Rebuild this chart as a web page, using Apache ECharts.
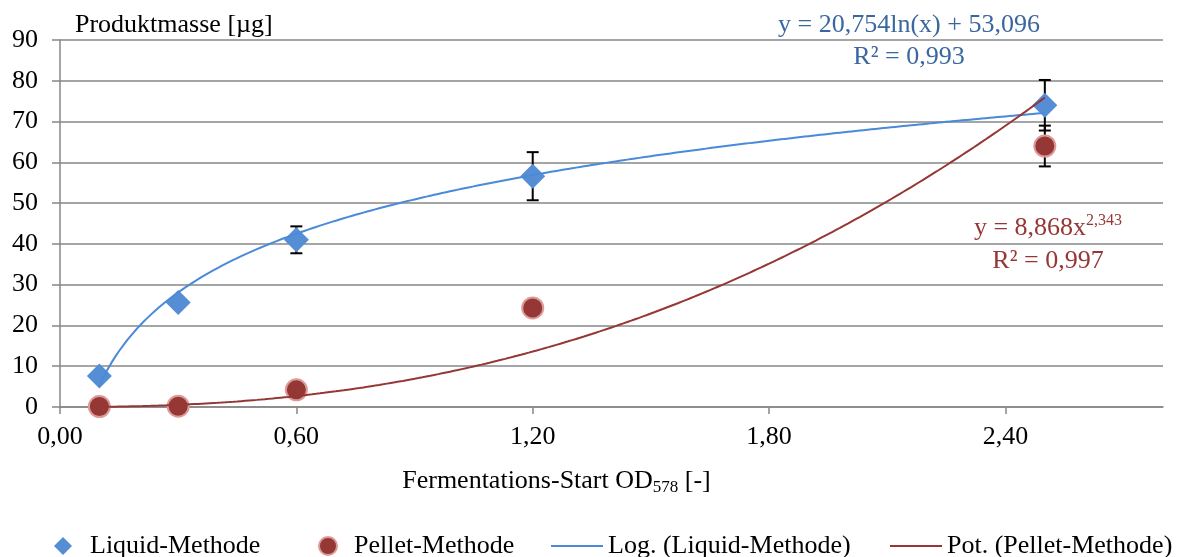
<!DOCTYPE html>
<html>
<head>
<meta charset="utf-8">
<script src="https://cdn.jsdelivr.net/npm/echarts@6/dist/echarts.min.js"></script>
<style>
html,body{margin:0;padding:0;background:#fff;}
#chart{width:1180px;height:557px;}
</style>
</head>
<body>
<div id="chart"></div>
<script>
// ---- data ----
const xValues = [0.1, 0.3, 0.6, 1.2, 2.5];
const liquidMean = [7.6, 25.6, 41.0, 56.6, 74.0];
const liquidErr = [1.2, 1.0, 3.3, 5.9, 6.2];
const pelletMean = [0.1, 0.2, 4.2, 24.3, 64.0];
const pelletErr = [0.3, 0.3, 0.8, 1.5, 5.0];
const xTickValues = [0, 0.6, 1.2, 1.8, 2.4];
// trendline equations printed on the chart
const logSlope = 20.754, logIntercept = 53.096, logR2 = '0,993';
const powCoeff = 8.868, powExp = 2.343, powR2 = '0,997';

const FONT = '"Liberation Serif", "Times New Roman", serif';
const GRID_COLOR = '#878787';
const BLUE = '#558ed5';
const RED = '#953735';

function fmt(v){ return v.toFixed(2).replace('.', ','); }

// trendline curves from the printed equations
const curveX = [];
for (let i = 0; i <= 240; i++) curveX.push(0.1 + i * 0.01);
const logCurve = curveX.map(x => [x, logSlope * Math.log(x) + logIntercept]);
const powCurve = curveX.map(x => [x, powCoeff * Math.pow(x, powExp)]);

const liquidPts = xValues.map((x, i) => [x, liquidMean[i]]);
const pelletPts = xValues.map((x, i) => [x, pelletMean[i]]);
const liquidBars = xValues.map((x, i) => [x, liquidMean[i] - liquidErr[i], liquidMean[i] + liquidErr[i]]);
const pelletBars = xValues.map((x, i) => [x, pelletMean[i] - pelletErr[i], pelletMean[i] + pelletErr[i]]);

function errRender(params, api){
  const x = api.value(0), lo = api.value(1), hi = api.value(2);
  const a = api.coord([x, hi]), b = api.coord([x, lo]);
  const w = 6;
  const st = {stroke: '#000', lineWidth: 2};
  return {type: 'group', children: [
    {type: 'line', shape: {x1: a[0], y1: a[1], x2: b[0], y2: b[1]}, style: st},
    {type: 'line', shape: {x1: a[0]-w, y1: a[1], x2: a[0]+w, y2: a[1]}, style: st},
    {type: 'line', shape: {x1: b[0]-w, y1: b[1], x2: b[0]+w, y2: b[1]}, style: st}
  ]};
}

const legendText = {fontFamily: FONT, fontSize: 26, color: '#000'};

const chart = echarts.init(document.getElementById('chart'), null, {renderer: 'canvas'});
chart.setOption({
  animation: false,
  backgroundColor: '#fff',
  grid: {left: 60, right: 17, top: 40, bottom: 150},
  xAxis: {
    type: 'value', min: 0, max: 2.8, interval: 0.6,
    name: '{a|Fermentations-Start OD}{s|578}{a| [-]}',
    nameLocation: 'middle', nameGap: 59,
    nameTextStyle: {
      padding: [0, 110, 0, 0],
      rich: {
        a: {fontFamily: FONT, fontSize: 26, color: '#000', lineHeight: 30},
        s: {fontFamily: FONT, fontSize: 17, color: '#000', lineHeight: 10, verticalAlign: 'bottom'}
      }
    },
    axisLine: {show: true, lineStyle: {color: GRID_COLOR, width: 1.5}},
    axisTick: {show: true, inside: false, length: 7, customValues: xTickValues, lineStyle: {color: GRID_COLOR, width: 1.5}},
    axisLabel: {customValues: xTickValues, formatter: fmt, fontFamily: FONT, fontSize: 26, color: '#000', margin: 17},
    splitLine: {show: false}
  },
  yAxis: {
    type: 'value', min: 0, max: 90, interval: 10,
    name: 'Produktmasse [µg]', nameLocation: 'end', nameGap: 15,
    nameTextStyle: {fontFamily: FONT, fontSize: 26, color: '#000', align: 'left', verticalAlign: 'middle', padding: [0, 0, 0, 15]},
    axisLine: {show: true, lineStyle: {color: GRID_COLOR, width: 1.5}},
    axisTick: {show: true, inside: false, length: 8, lineStyle: {color: GRID_COLOR, width: 1.5}},
    axisLabel: {fontFamily: FONT, fontSize: 26, color: '#000', margin: 22},
    splitLine: {show: true, lineStyle: {color: GRID_COLOR, width: 1.5}}
  },
  legend: [
    {data: ['Liquid-Methode'], left: 54, top: 533, padding: 0, itemWidth: 18, itemHeight: 18,
     textStyle: Object.assign({padding: [0, 0, 0, 13]}, legendText)},
    {data: ['Pellet-Methode'], left: 318, top: 533, padding: 0, itemWidth: 18, itemHeight: 18,
     textStyle: Object.assign({padding: [0, 0, 0, 12]}, legendText)},
    {data: [{name: 'Log. (Liquid-Methode)', icon: 'rect'}], left: 551, top: 533, padding: 0, itemWidth: 52, itemHeight: 2,
     textStyle: legendText},
    {data: [{name: 'Pot. (Pellet-Methode)', icon: 'rect'}], left: 890, top: 533, padding: 0, itemWidth: 52, itemHeight: 2,
     textStyle: legendText}
  ],
  series: [
    {name: 'errLiquid', type: 'custom', renderItem: errRender, data: liquidBars, z: 1, silent: true,
     encode: {x: 0, y: [1, 2]}},
    {name: 'errPellet', type: 'custom', renderItem: errRender, data: pelletBars, z: 1, silent: true,
     encode: {x: 0, y: [1, 2]}},
    {name: 'Liquid-Methode', type: 'scatter', symbol: 'diamond', symbolSize: 25, data: liquidPts, z: 2,
     itemStyle: {color: BLUE, opacity: 1}},
    {name: 'Pellet-Methode', type: 'scatter', symbol: 'circle', symbolSize: 21, data: pelletPts, z: 2,
     itemStyle: {color: RED, borderColor: '#dc9a98', borderWidth: 2, opacity: 1}},
    {name: 'Log. (Liquid-Methode)', type: 'line', data: logCurve, showSymbol: false, symbol: 'none', z: 3,
     lineStyle: {color: '#4a8ad8', width: 2}, itemStyle: {color: '#4a8ad8'}},
    {name: 'Pot. (Pellet-Methode)', type: 'line', data: powCurve, showSymbol: false, symbol: 'none', z: 3,
     lineStyle: {color: RED, width: 2}, itemStyle: {color: RED}}
  ],
  graphic: [
    {type: 'text', x: 909, y: 25, z: 10, style: {text: 'y = 20,754ln(x) + 53,096', fill: '#3a679f', font: '26px ' + FONT, align: 'center', verticalAlign: 'middle'}},
    {type: 'text', x: 909, y: 57, z: 10, style: {text: 'R² = ' + logR2, fill: '#3a679f', font: '26px ' + FONT, align: 'center', verticalAlign: 'middle'}},
    {type: 'text', x: 1048, y: 228, z: 10, style: {
      text: '{a|y = 8,868x}{p|2,343}', align: 'center', verticalAlign: 'middle',
      rich: {
        a: {fontFamily: FONT, fontSize: 26, fill: RED, color: RED, lineHeight: 30},
        p: {fontFamily: FONT, fontSize: 16, fill: RED, color: RED, lineHeight: 18, verticalAlign: 'top'}
      }}},
    {type: 'text', x: 1048, y: 261, z: 10, style: {text: 'R² = ' + powR2, fill: RED, font: '26px ' + FONT, align: 'center', verticalAlign: 'middle'}}
  ]
});
</script>
</body>
</html>
